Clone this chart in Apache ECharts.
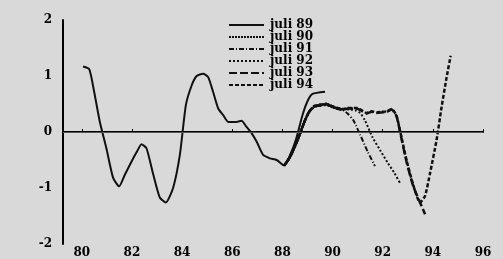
<!DOCTYPE html>
<html>
<head>
<meta charset="utf-8">
<script src="https://cdn.jsdelivr.net/npm/echarts@6/dist/echarts.min.js"></script>
<style>
  html, body { margin: 0; padding: 0; background: #d9d9d9; }
  #chart { width: 503px; height: 259px; }
</style>
</head>
<body>
<div id="chart"></div>
<script>
// jaar-ticks op de x-as
var xTicks = [80, 82, 84, 86, 88, 90, 92, 94, 96];

// reeksen: [jaar, waarde]
var juli89 = [
  [80.05, 1.17], [80.3, 1.12], [80.5, 0.7], [80.72, 0.18], [80.98, -0.29],
  [81.25, -0.82], [81.49, -0.97], [81.72, -0.76], [81.98, -0.53], [82.2, -0.35],
  [82.38, -0.22], [82.58, -0.29], [82.85, -0.76], [83.11, -1.17], [83.35, -1.26],
  [83.64, -1.0], [83.91, -0.41], [84.15, 0.48], [84.38, 0.83], [84.58, 1.0],
  [84.84, 1.04], [85.04, 0.98], [85.24, 0.71], [85.44, 0.42], [85.64, 0.30],
  [85.84, 0.18], [86.17, 0.18], [86.37, 0.2], [86.57, 0.09], [86.77, -0.02],
  [86.97, -0.17], [87.23, -0.41], [87.5, -0.47], [87.77, -0.5], [88.07, -0.6],
  [88.3, -0.42], [88.55, -0.12], [88.8, 0.3], [89.0, 0.55], [89.2, 0.68], [89.7, 0.72]
];
var juli90 = [
  [88.07, -0.6], [88.3, -0.45], [88.6, -0.15], [88.85, 0.15], [89.05, 0.35],
  [89.25, 0.45], [89.5, 0.48], [89.75, 0.5], [90.0, 0.45], [90.2, 0.42], [90.45, 0.4]
];
var juli91 = [
  [88.07, -0.6], [88.3, -0.45], [88.6, -0.15], [88.85, 0.15], [89.05, 0.35],
  [89.25, 0.45], [89.5, 0.47], [89.75, 0.49], [90.0, 0.44], [90.2, 0.41], [90.45, 0.38],
  [90.6, 0.33], [90.83, 0.21], [91.1, -0.05], [91.4, -0.35], [91.69, -0.61]
];
var juli92 = [
  [88.07, -0.6], [88.3, -0.45], [88.6, -0.15], [88.85, 0.15], [89.05, 0.35],
  [89.25, 0.44], [89.5, 0.47], [89.75, 0.48], [90.0, 0.44], [90.2, 0.42], [90.45, 0.4],
  [90.6, 0.4], [90.9, 0.39], [91.1, 0.34], [91.29, 0.21], [91.6, -0.1],
  [91.89, -0.32], [92.2, -0.55], [92.45, -0.72], [92.69, -0.91]
];
var juli93 = [
  [88.07, -0.6], [88.3, -0.45], [88.6, -0.15], [88.85, 0.15], [89.05, 0.35],
  [89.25, 0.45], [89.5, 0.48], [89.75, 0.5], [90.0, 0.45], [90.2, 0.42], [90.45, 0.4],
  [90.6, 0.42], [90.96, 0.42], [91.15, 0.38], [91.36, 0.33], [91.56, 0.36],
  [91.76, 0.34], [91.95, 0.35], [92.16, 0.36], [92.36, 0.4], [92.45, 0.36],
  [92.56, 0.27], [92.76, -0.14], [92.96, -0.55], [93.22, -0.97], [93.49, -1.26], [93.69, -1.47]
];
var juli94 = [
  [88.07, -0.6], [88.3, -0.45], [88.6, -0.15], [88.85, 0.15], [89.05, 0.35],
  [89.25, 0.46], [89.5, 0.49], [89.75, 0.5], [90.0, 0.46], [90.2, 0.43], [90.45, 0.41],
  [90.6, 0.43], [90.96, 0.43], [91.15, 0.39], [91.36, 0.34], [91.56, 0.37],
  [91.76, 0.35], [91.95, 0.36], [92.16, 0.37], [92.36, 0.41], [92.45, 0.37],
  [92.56, 0.28], [92.76, -0.12], [92.96, -0.52], [93.22, -0.95], [93.49, -1.26],
  [93.69, -1.14], [93.89, -0.73], [94.15, -0.14], [94.35, 0.45], [94.55, 0.98], [94.71, 1.36]
];

var serif = '"DejaVu Serif", "Liberation Serif", serif';

function lijn(name, data, type, width) {
  return {
    name: name,
    type: 'line',
    data: data,
    smooth: 0.2,
    symbol: 'none',
    lineStyle: { color: '#111', width: width, type: type },
    itemStyle: { color: '#111' }
  };
}

var chart = echarts.init(document.getElementById('chart'), null, { renderer: 'canvas' });

var series = [
  lijn('juli 89', juli89, 'solid', 2),
  lijn('juli 90', juli90, [2, 1], 2.5),
  lijn('juli 91', juli91, [5, 2, 1, 2], 2),
  lijn('juli 92', juli92, [2, 2], 2),
  lijn('juli 93', juli93, [8, 3], 2.5),
  lijn('juli 94', juli94, [4, 2], 2.5)
];
// nullijn
series[0].markLine = {
  silent: true,
  symbol: 'none',
  label: { show: false },
  lineStyle: { color: '#555', width: 1, type: 'solid' },
  data: [{ yAxis: 0 }]
};

chart.setOption({
  backgroundColor: '#d9d9d9',
  animation: false,
  grid: { left: 63, right: 20, top: 20, bottom: 14 },
  legend: {
    orient: 'vertical',
    left: 223,
    top: 14,
    itemWidth: 35,
    itemHeight: 8,
    itemGap: 0,
    itemStyle: { color: 'rgba(0,0,0,0)', borderWidth: 0 },
    textStyle: {
      fontFamily: serif, fontWeight: 'bold', fontSize: 12, color: '#000',
      lineHeight: 12, padding: [0, 0, 0, 1]
    },
    data: ['juli 89', 'juli 90', 'juli 91', 'juli 92', 'juli 93', 'juli 94']
  },
  xAxis: {
    type: 'value',
    min: 79.25,
    max: 96,
    splitLine: { show: false },
    axisLine: { lineStyle: { color: '#000', width: 2 } },
    axisTick: { show: true, inside: true, length: 3, customValues: xTicks, lineStyle: { color: '#000' } },
    axisLabel: {
      customValues: xTicks,
      fontFamily: serif, fontWeight: 'bold', fontSize: 12, color: '#000', margin: 3
    }
  },
  yAxis: {
    type: 'value',
    min: -2,
    max: 2,
    interval: 1,
    splitLine: { show: false },
    axisLine: { show: true, lineStyle: { color: '#000', width: 2 } },
    axisTick: { show: false },
    axisLabel: { fontFamily: serif, fontWeight: 'bold', fontSize: 12, color: '#000', margin: 11 }
  },
  series: series
});
</script>
</body>
</html>
